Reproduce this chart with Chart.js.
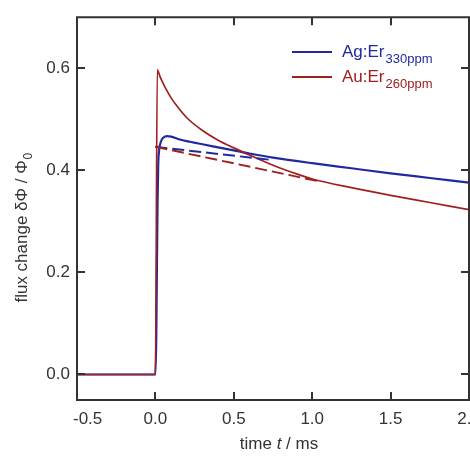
<!DOCTYPE html>
<html>
<head>
<meta charset="utf-8">
<script src="https://cdn.jsdelivr.net/npm/chart.js@4"></script>
<style>
  html, body { margin: 0; padding: 0; background: #ffffff; }
  #wrap { width: 470px; height: 456px; position: relative; }
</style>
</head>
<body>
<div id="wrap"><canvas id="c" width="470" height="456"></canvas></div>
<script>
// ---- data ----
const agTime  = [-0.5, 0.0, 0.006, 0.010, 0.014, 0.018, 0.024, 0.035, 0.05, 0.075, 0.10, 0.15, 0.22, 0.30, 0.40, 0.50, 0.60, 0.75, 1.00, 1.25, 1.50, 1.75, 2.00];
const agFlux  = [0.0, 0.0, 0.08, 0.22, 0.34, 0.41, 0.44, 0.456, 0.464, 0.467, 0.466, 0.461, 0.456, 0.451, 0.445, 0.439, 0.433, 0.425, 0.414, 0.404, 0.394, 0.385, 0.376];
const auTime  = [-0.5, 0.0, 0.012, 0.03, 0.05, 0.075, 0.10, 0.15, 0.20, 0.30, 0.40, 0.50, 0.60, 0.75, 0.90, 1.00, 1.25, 1.50, 1.75, 2.00];
const auFlux  = [0.0, 0.0, 0.597, 0.583, 0.570, 0.555, 0.542, 0.521, 0.503, 0.478, 0.459, 0.444, 0.430, 0.410, 0.393, 0.383, 0.366, 0.351, 0.337, 0.323];
const agFitTime = [0.0, 0.75];
const agFitFlux = [0.446, 0.420];
const auFitTime = [0.0, 1.05];
const auFitFlux = [0.446, 0.378];
const xTickValues = [-0.5, 0.0, 0.5, 1.0, 1.5, 2.0];
const yTickValues = [0.0, 0.2, 0.4, 0.6];
const seriesNames = ['Ag:Er', 'Au:Er'];
const seriesSubs  = ['330ppm', '260ppm'];

const BLUE = 'rgb(32,42,160)';
const RED  = 'rgb(160,32,32)';
const INK  = '#333333';
const FONT = '"Liberation Sans", Arial, Helvetica, sans-serif';

const pts = (xs, ys) => xs.map((x, i) => ({ x: x, y: ys[i] }));

const framePlugin = {
  id: 'frame',
  afterDraw(chart) {
    const ctx = chart.ctx;
    const a = chart.chartArea;
    const xs = chart.scales.x, ys = chart.scales.y;
    ctx.save();
    // frame
    ctx.strokeStyle = INK;
    ctx.lineWidth = 2;
    ctx.beginPath();
    ctx.rect(a.left, a.top, a.right - a.left, a.bottom - a.top);
    ctx.stroke();
    // inward ticks (mirrored)
    const TL = 8;
    ctx.beginPath();
    xs.ticks.forEach(t => {
      const px = Math.round(xs.getPixelForValue(t.value));
      ctx.moveTo(px, a.bottom); ctx.lineTo(px, a.bottom - TL);
      ctx.moveTo(px, a.top); ctx.lineTo(px, a.top + TL);
    });
    ys.ticks.forEach(t => {
      const py = Math.round(ys.getPixelForValue(t.value));
      ctx.moveTo(a.left, py); ctx.lineTo(a.left + TL, py);
      ctx.moveTo(a.right, py); ctx.lineTo(a.right - TL, py);
    });
    ctx.stroke();

    // x tick labels
    ctx.fillStyle = INK;
    ctx.font = '17px ' + FONT;
    ctx.textAlign = 'center';
    ctx.textBaseline = 'alphabetic';
    xs.ticks.forEach(t => {
      let px = xs.getPixelForValue(t.value);
      const label = t.value.toFixed(1);
      const w = ctx.measureText(label).width;
      if (px - w / 2 < a.left - 4) px = a.left - 4 + w / 2;
      ctx.fillText(label, px, 424);
    });

    // x title: time t / ms
    const parts = [['time ', 'normal'], ['t', 'italic'], [' / ms', 'normal']];
    let total = 0;
    parts.forEach(p => { ctx.font = p[1] + ' 17px ' + FONT; total += ctx.measureText(p[0]).width; });
    let cx = 279 - total / 2;
    ctx.textAlign = 'left';
    parts.forEach(p => {
      ctx.font = p[1] + ' 17px ' + FONT;
      ctx.fillText(p[0], cx, 449);
      cx += ctx.measureText(p[0]).width;
    });

    // y title: flux change δΦ / Φ0  (rotated)
    ctx.save();
    ctx.translate(27, 228);
    ctx.rotate(-Math.PI / 2);
    const main = 'flux change \u03B4\u03A6 / \u03A6';
    const sub = '0';
    ctx.font = '17px ' + FONT;
    const wm = ctx.measureText(main).width;
    ctx.font = '12px ' + FONT;
    const wsub = ctx.measureText(sub).width;
    const start = -(wm + wsub) / 2;
    ctx.font = '17px ' + FONT;
    ctx.fillText(main, start, 0);
    ctx.font = '12px ' + FONT;
    ctx.fillText(sub, start + wm + 0.5, 5);
    ctx.restore();

    // legend
    const legendColors = [BLUE, RED];
    const rows = [52, 77];
    rows.forEach((yy, i) => {
      ctx.strokeStyle = legendColors[i];
      ctx.lineWidth = 2;
      ctx.beginPath();
      ctx.moveTo(292, yy); ctx.lineTo(332, yy);
      ctx.stroke();
      ctx.fillStyle = legendColors[i];
      ctx.font = '17px ' + FONT;
      ctx.textAlign = 'left';
      ctx.fillText(seriesNames[i], 342, yy + 5);
      const w = ctx.measureText(seriesNames[i]).width;
      ctx.font = '13px ' + FONT;
      ctx.fillText(seriesSubs[i], 342 + w + 1, yy + 11);
    });
    ctx.restore();
  }
};

new Chart(document.getElementById('c'), {
  type: 'line',
  data: {
    datasets: [
      { label: 'Au:Er fit', data: pts(auFitTime, auFitFlux), borderColor: RED, borderWidth: 2, borderDash: [12, 5], pointRadius: 0, fill: false },
      { label: 'Ag:Er fit', data: pts(agFitTime, agFitFlux), borderColor: BLUE, borderWidth: 2, borderDash: [12, 5], pointRadius: 0, fill: false },
      { label: 'Au:Er', data: pts(auTime, auFlux), borderColor: RED, borderWidth: 1.7, pointRadius: 0, fill: false, cubicInterpolationMode: 'monotone' },
      { label: 'Ag:Er', data: pts(agTime, agFlux), borderColor: BLUE, borderWidth: 2.2, pointRadius: 0, fill: false, cubicInterpolationMode: 'monotone' }
    ]
  },
  options: {
    responsive: false,
    animation: false,
    events: [],
    layout: { padding: { top: 7, right: 1, left: 0, bottom: 0 } },
    plugins: { legend: { display: false }, tooltip: { enabled: false } },
    scales: {
      x: {
        type: 'linear', min: -0.5, max: 2.0,
        afterFit: s => { s.height = 56; },
        afterBuildTicks: s => { s.ticks = xTickValues.map(v => ({ value: v })); },
        grid: { display: false, drawTicks: false },
        border: { display: false },
        ticks: { display: false }
      },
      y: {
        type: 'linear', min: -0.05, max: 0.70,
        afterFit: s => { s.width = 77; },
        afterBuildTicks: s => { s.ticks = yTickValues.map(v => ({ value: v })); },
        grid: { display: false, drawTicks: false },
        border: { display: false },
        ticks: {
          padding: 7, color: INK,
          font: { family: FONT, size: 17 },
          callback: v => Number(v).toFixed(1)
        }
      }
    }
  },
  plugins: [framePlugin]
});
</script>
</body>
</html>
